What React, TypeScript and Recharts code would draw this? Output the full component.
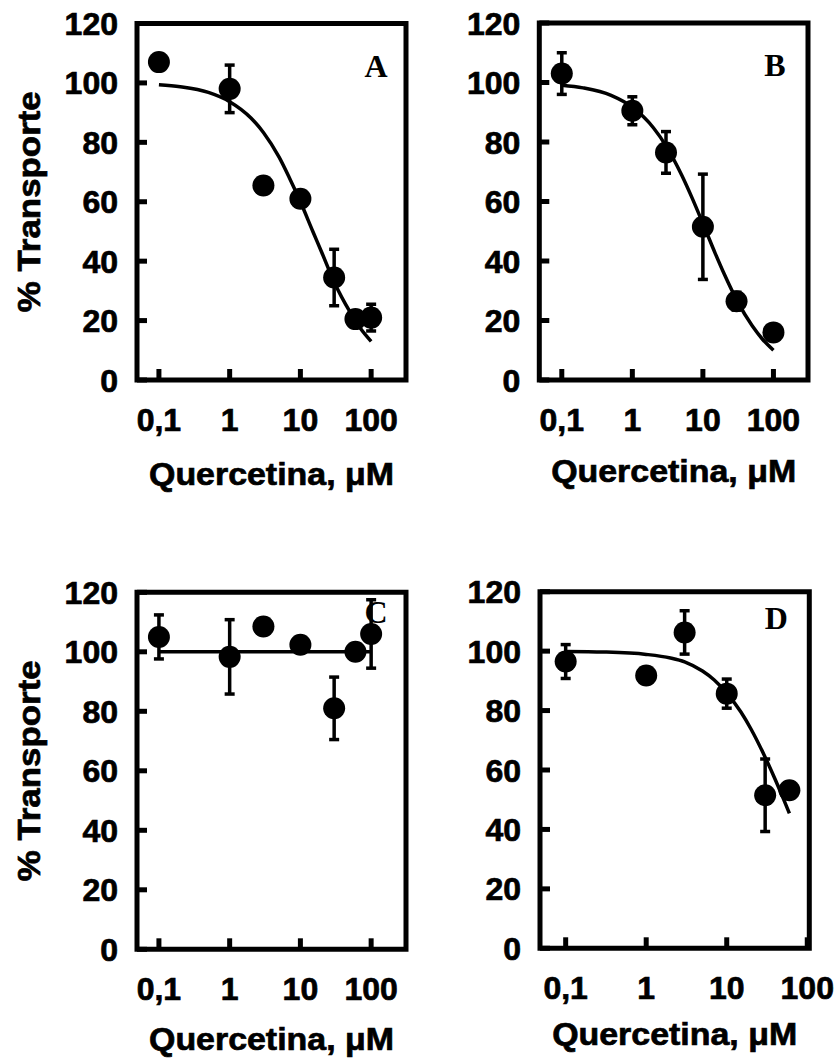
import { ComposedChart, ErrorBar, Label, Line, ReferenceArea, Scatter, XAxis, YAxis } from 'recharts';

const SANS = "'Liberation Sans', Arial, Helvetica, sans-serif";
const SERIF = "'Liberation Serif', 'Times New Roman', serif";

const xTicks = [0.1, 1, 10, 100];
const xTickLabels = ['0,1', '1', '10', '100'];
const yTicks = [0, 20, 40, 60, 80, 100, 120];

// Panel A
const concA = [0.1, 1, 3, 10, 30, 60, 100];
const transportA = [107, 98, 65.5, 61, 34.5, 20.5, 21];
const errorA = [0, 8, 2, 2.5, 9.5, 2, 4.5];
const fitConcA = [0.1, 0.2, 0.5, 1, 2, 3, 5, 7, 10, 15, 20, 30, 50, 70, 100];
const fitTransportA = [99.4, 98.7, 96.8, 93.7, 88.2, 83.3, 75, 68, 60, 50, 43, 33, 23, 17.5, 13];

// Panel B
const concB = [0.1, 1, 3, 10, 30, 100];
const transportB = [103, 90.5, 76.5, 51.5, 26.5, 16];
const errorB = [7, 4.7, 7, 17.7, 3, 0];
const fitConcB = [0.1, 0.2, 0.5, 1, 2, 3, 5, 7, 10, 15, 20, 30, 50, 70, 100];
const fitTransportB = [99.1, 98.2, 95.7, 91.7, 84.7, 78.7, 68.9, 61.3, 52.6, 42.5, 35.7, 27, 18.2, 13.7, 10];

// Panel C
const concC = [0.1, 1, 3, 10, 30, 60, 100];
const transportC = [105, 98.3, 108.5, 102.4, 81, 100, 106];
const errorC = [7.4, 12.5, 0, 0, 10.5, 0, 11.5];
const fitConcC = [0.1, 100];
const fitTransportC = [100, 100];

// Panel D
const concD = [0.1, 1, 3, 10, 30, 60];
const transportD = [96.5, 91.8, 106.3, 85.7, 51.5, 53.2];
const errorD = [5.7, 0, 7.3, 4.9, 12.2, 2];
const fitConcD = [0.1, 0.3, 1, 2, 3, 5, 7, 10, 15, 20, 30, 40, 50, 60];
const fitTransportD = [99.9, 99.7, 98.9, 97.7, 96.4, 93.3, 90.3, 85.9, 79.5, 73.8, 64.3, 56.8, 50.6, 45.4];

function toPoints(xs: number[], ys: number[], errs?: number[]) {
  return xs.map((x, i) => ({ x, y: ys[i], err: errs ? errs[i] : 0 }));
}

type PanelProps = {
  letter: string;
  points: { x: number; y: number; err: number }[];
  fit: { x: number; y: number }[];
  domain: [number, number];
  left: number;
  top: number;
  height: number;
  margin: { top: number; right: number; left: number; bottom: number };
  yAxisWidth: number;
  xAxisHeight: number;
  showYTitle: boolean;
  xTitleOffset: number;
  letterDx: number;
  letterDy: number;
};

const textStyle = {
  fill: '#000',
  stroke: '#000',
  strokeWidth: 0.7,
  fontSize: 32,
  fontWeight: 700,
  fontFamily: SANS,
};

function Dot(props: any) {
  return <circle cx={props.cx} cy={props.cy} r={11} fill="#000" />;
}

// ticks point inwards, so they are drawn by hand next to the labels
function XTick({ payload, plotBottom }: any) {
  const x = payload.coordinate;
  const label = xTickLabels[xTicks.indexOf(Number(payload.value))] ?? String(payload.value);
  return (
    <g>
      <line x1={x} x2={x} y1={plotBottom} y2={plotBottom - 11} stroke="#000" strokeWidth={5} />
      <text x={x} y={plotBottom + 51} textAnchor="middle" {...textStyle}>
        {label}
      </text>
    </g>
  );
}

function YTick({ payload, plotLeft }: any) {
  const y = payload.coordinate;
  return (
    <g>
      <line x1={plotLeft} x2={plotLeft + 10} y1={y} y2={y} stroke="#000" strokeWidth={5} />
      <text x={plotLeft - 19} y={y} dy="0.36em" textAnchor="end" {...textStyle}>
        {payload.value}
      </text>
    </g>
  );
}

function Panel(p: PanelProps) {
  const plotBottom = p.height - p.margin.bottom - p.xAxisHeight;
  const plotLeft = p.margin.left + p.yAxisWidth;

  return (
    <div style={{ position: 'absolute', left: p.left, top: p.top }}>
      <ComposedChart width={420} height={p.height} margin={p.margin}>
        <XAxis
          dataKey="x"
          type="number"
          scale="log"
          domain={p.domain}
          allowDataOverflow
          ticks={xTicks}
          interval={0}
          tick={(props: any) => <XTick {...props} plotBottom={plotBottom} />}
          axisLine={false}
          tickLine={false}
          height={p.xAxisHeight}
        >
          <Label
            content={(props: any) => {
              const vb = props.viewBox;
              return (
                <text
                  x={vb.x + vb.width / 2}
                  y={vb.y + p.xTitleOffset}
                  textAnchor="middle"
                  {...textStyle}
                  textLength={245}
                  lengthAdjust="spacingAndGlyphs"
                >
                  Quercetina, μM
                </text>
              );
            }}
          />
        </XAxis>
        <YAxis
          type="number"
          domain={[0, 120]}
          ticks={yTicks}
          interval={0}
          tick={(props: any) => <YTick {...props} plotLeft={plotLeft} />}
          axisLine={false}
          tickLine={false}
          width={p.yAxisWidth}
        >
          {p.showYTitle && (
            <Label
              content={(props: any) => {
                const vb = props.viewBox;
                const cx = vb.x + 40;
                const cy = vb.y + vb.height / 2;
                return (
                  <text
                    x={cx}
                    y={cy}
                    transform={`rotate(-90 ${cx} ${cy})`}
                    textAnchor="middle"
                    {...textStyle}
                    textLength={221}
                    lengthAdjust="spacingAndGlyphs"
                  >
                    % Transporte
                  </text>
                );
              }}
            />
          )}
        </YAxis>
        <ReferenceArea
          x1={p.domain[0]}
          x2={p.domain[1]}
          y1={0}
          y2={120}
          fill="none"
          stroke="#000"
          strokeWidth={5}
          ifOverflow="visible"
        >
          <Label
            content={(props: any) => {
              const vb = props.viewBox;
              return (
                <text
                  x={vb.x + vb.width - p.letterDx}
                  y={vb.y + p.letterDy}
                  textAnchor="middle"
                  fontSize={32}
                  fontWeight={700}
                  fontFamily={SERIF}
                  fill="#000"
                >
                  {p.letter}
                </text>
              );
            }}
          />
        </ReferenceArea>
        <Line
          data={p.fit}
          dataKey="y"
          type="monotone"
          stroke="#000"
          strokeWidth={3.5}
          dot={false}
          activeDot={false}
          isAnimationActive={false}
        />
        <Scatter data={p.points} dataKey="y" shape={Dot} isAnimationActive={false}>
          <ErrorBar dataKey="err" direction="y" width={5} stroke="#000" strokeWidth={3.5} />
        </Scatter>
      </ComposedChart>
    </div>
  );
}

export default function App() {
  return (
    <div style={{ position: 'absolute', left: 0, top: 0, width: 840, height: 1063, background: '#fff' }}>
      <Panel
        letter="A"
        points={toPoints(concA, transportA, errorA)}
        fit={toPoints(fitConcA, fitTransportA)}
        domain={[0.049, 311]}
        left={0}
        top={0}
        height={530}
        margin={{ top: 23.5, right: 14, left: 0, bottom: 20 }}
        yAxisWidth={137}
        xAxisHeight={130}
        showYTitle
        xTitleOffset={105}
        letterDx={30}
        letterDy={53}
      />
      <Panel
        letter="B"
        points={toPoints(concB, transportB, errorB)}
        fit={toPoints(fitConcB, fitTransportB)}
        domain={[0.048, 309]}
        left={420}
        top={0}
        height={530}
        margin={{ top: 23, right: 32, left: 0, bottom: 20 }}
        yAxisWidth={119.3}
        xAxisHeight={130}
        showYTitle={false}
        xTitleOffset={102}
        letterDx={33}
        letterDy={53}
      />
      <Panel
        letter="C"
        points={toPoints(concC, transportC, errorC)}
        fit={toPoints(fitConcC, fitTransportC)}
        domain={[0.049, 311]}
        left={0}
        top={530}
        height={533}
        margin={{ top: 62.3, right: 14, left: 0, bottom: 0 }}
        yAxisWidth={137}
        xAxisHeight={113.7}
        showYTitle
        xTitleOffset={101}
        letterDx={30}
        letterDy={31}
      />
      <Panel
        letter="D"
        points={toPoints(concD, transportD, errorD)}
        fit={toPoints(fitConcD, fitTransportD)}
        domain={[0.048, 106]}
        left={420}
        top={530}
        height={533}
        margin={{ top: 61.7, right: 30.7, left: 0, bottom: 0 }}
        yAxisWidth={120}
        xAxisHeight={114.7}
        showYTitle={false}
        xTitleOffset={97}
        letterDx={33}
        letterDy={37}
      />
    </div>
  );
}
